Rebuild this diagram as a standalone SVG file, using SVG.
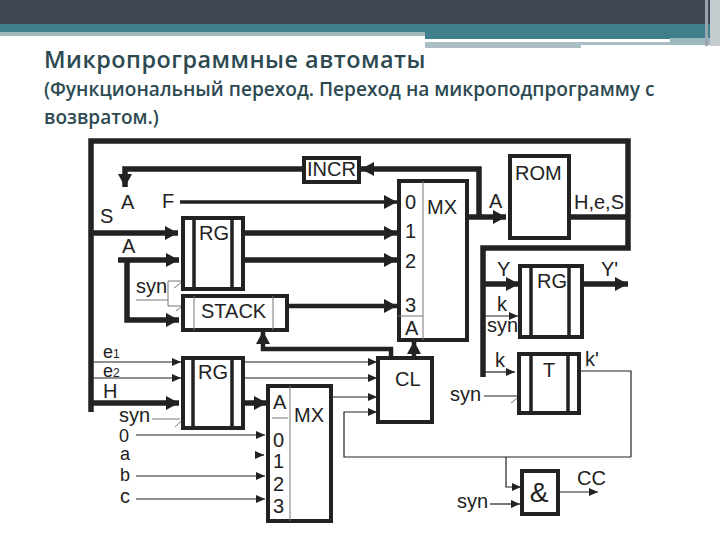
<svg xmlns="http://www.w3.org/2000/svg" width="720" height="540" viewBox="0 0 720 540">
<style>
.t{font-family:"Liberation Sans",Arial,sans-serif;font-size:20px;fill:#222}
.c{font-size:18px}
.h{font-family:"Open Sans","Noto Sans",sans-serif;font-weight:600;fill:#2d4a52}
.b{fill:#fff;stroke:#222;stroke-width:4}
.i{fill:none;stroke:#222;stroke-width:3.500}
.w{fill:none;stroke:#222;stroke-width:5.500}
.m{fill:none;stroke:#222;stroke-width:4.500}
.f{fill:none;stroke:#222;stroke-width:1.200}
.s{fill:none;stroke:#777;stroke-width:1}
</style>
<defs>
<marker id="big" markerUnits="userSpaceOnUse" markerWidth="14" markerHeight="14" refX="13" refY="7" orient="auto"><path d="M0 0L13 7L0 14z" fill="#222"/></marker>
<marker id="sm" markerUnits="userSpaceOnUse" markerWidth="9" markerHeight="8" refX="9" refY="4" orient="auto"><path d="M0 0L9 4L0 8z" fill="#222"/></marker>
</defs>
<rect width="720" height="540" fill="#fff"/>
<g id="header">
<rect width="720" height="24" fill="#3f4553"/>
<rect y="24" width="720" height="12" fill="#3f7f8c"/>
<rect y="32" width="425" height="4" fill="#9fb6bc"/>
<rect x="425" y="36" width="285" height="3" fill="#3f7f8c"/>
<rect x="425" y="39" width="245" height="3" fill="#fff"/>
<rect x="425" y="42" width="245" height="3" fill="#a9bfc4"/>
<rect x="425" y="45" width="156" height="3" fill="#a9bfc4"/>
<rect x="670" y="38" width="40" height="7" fill="#9cb8be"/>
<rect x="705" y="0" width="3" height="46" fill="#9aa5ad"/>
<rect x="710" y="0" width="10" height="46" fill="#c4ccd0"/>
</g>
<text class="h" x="44" y="68" font-size="23.400" letter-spacing=".5">Микропрограммные автоматы</text>
<text class="h" x="44" y="96" font-size="19.100">(Функциональный переход. Переход на микроподпрограмму с</text>
<text class="h" x="44" y="124" font-size="19">возвратом.)</text>
<g id="connectors">
<path class="w" d="M91 412V141H628V248H483V377"/>
<path class="w" d="M628 217H569"/>
<path class="w" d="M467 217H506" marker-end="url(#big)"/>
<path class="w" d="M479 217V169H361" marker-end="url(#big)"/>
<path class="w" d="M303 169H125V187" marker-end="url(#big)"/>
<path class="i" d="M180 202H397" marker-end="url(#big)"/>
<path class="w" d="M91 233H178" marker-end="url(#big)"/>
<path class="w" d="M243 233H397" marker-end="url(#big)"/>
<path class="w" d="M243 260H397" marker-end="url(#big)"/>
<path class="w" d="M118 260H179" marker-end="url(#big)"/>
<path class="w" d="M127 260V320H179" marker-end="url(#big)"/>
<path class="m" d="M287 306H397" marker-end="url(#big)"/>
<path class="w" d="M483 284H519" marker-end="url(#big)"/>
<path class="w" d="M582 284H628" marker-end="url(#big)"/>
<path class="f" d="M485 316H518" marker-end="url(#sm)"/>
<path class="f" d="M483 372H515" marker-end="url(#sm)"/>
<path class="m" d="M391 357V349H263V331" marker-end="url(#big)"/>
<path class="m" d="M414 357V341" marker-end="url(#big)"/>
<path class="f" d="M93 362H181" marker-end="url(#sm)"/>
<path class="f" d="M93 378H181" marker-end="url(#sm)"/>
<path class="w" d="M91 403H179" marker-end="url(#big)"/>
<path class="f" d="M243 362H377" marker-end="url(#sm)"/>
<path class="f" d="M243 378H377" marker-end="url(#sm)"/>
<path class="w" d="M243 403H267" marker-end="url(#big)"/>
<path class="f" d="M331 397H377" marker-end="url(#sm)"/>
<path class="f" d="M631 457H344V412H377" marker-end="url(#sm)"/>
<path class="f" d="M579 371H631V457"/>
<path class="f" d="M506 457V487H521" marker-end="url(#sm)"/>
<path class="f" d="M558 492H598" marker-end="url(#sm)"/>
<path class="f" d="M490 504H520" marker-end="url(#sm)"/>
<path class="f" d="M136 435H265" marker-end="url(#sm)"/>
<path class="f" d="M256 455H264" marker-end="url(#sm)"/>
<path class="f" d="M136 476H265" marker-end="url(#sm)"/>
<path class="f" d="M136 499H265" marker-end="url(#sm)"/>
<path class="f" d="M484 396H518"/>
<path class="s" d="M152 419H180M136 300H168M182 281H168V306H182"/>
<path class="s" d="M174 288L191 275M176 311L191 300M175 427L190 413M511 403L526 391M520 333L528 323"/>
</g>
<g id="incr"><rect class="b" x="304" y="158" width="55" height="24"/><text class="t" x="307" y="176">INCR</text></g>
<g id="rg1"><rect class="b" x="183" y="218" width="60" height="71"/><path class="i" d="M194 218V289M232 218V289"/><text class="t" x="199" y="240">RG</text></g>
<g id="stack"><rect class="b" x="183" y="296" width="104" height="34"/><path class="s" d="M194 296V330M273 296V330"/><text class="t" x="201" y="318">STACK</text></g>
<g id="mx1"><rect class="b" x="399" y="181" width="68" height="159"/><path class="s" d="M423 181V340M398 316H423"/><text class="t" x="405" y="209">0</text><text class="t" x="405" y="238">1</text><text class="t" x="405" y="268">2</text><text class="t" x="405" y="312">3</text><text class="t" x="405" y="335">A</text><text class="t" x="427" y="214">MX</text></g>
<g id="rom"><rect class="b" x="510" y="156" width="59" height="82"/><text class="t" x="515" y="180">ROM</text></g>
<g id="rg2"><rect class="b" x="520" y="266" width="62" height="71"/><path class="i" d="M531 266V337M569 266V337"/><text class="t" x="537" y="288">RG</text></g>
<g id="t"><rect class="b" x="519" y="354" width="60" height="59"/><path class="i" d="M531 354V413M568 354V413"/><text class="t" x="543" y="377">T</text></g>
<g id="cl"><rect class="b" x="378" y="358" width="54" height="64"/><text class="t" x="395" y="386">CL</text></g>
<g id="rg3"><rect class="b" x="183" y="358" width="60" height="70"/><path class="i" d="M193 358V428M232 358V428"/><text class="t" x="198" y="379">RG</text></g>
<g id="mx2"><rect class="b" x="268" y="386" width="63" height="135"/><path class="s" d="M290 386V521M272 418H288"/><text class="t" x="273" y="409">A</text><text class="t" x="273" y="447">0</text><text class="t" x="273" y="468">1</text><text class="t" x="273" y="491">2</text><text class="t" x="273" y="513">3</text><text class="t" x="294" y="422">MX</text></g>
<g id="and"><rect class="b" x="522" y="471" width="36" height="43"/><text class="t" x="539" y="502" text-anchor="middle" style="font-size:28px">&amp;</text></g>
<g id="labels">
<text class="t" x="121" y="209">A</text><text class="t" x="162" y="208">F</text><text class="t" x="100" y="223">S</text><text class="t" x="122" y="253">A</text><text class="t" x="136" y="293">syn</text>
<text class="t" x="489" y="208">A</text><text class="t" x="574" y="209">H,e,S</text><text class="t" x="497" y="276">Y</text><text class="t" x="601" y="276">Y'</text><text class="t" x="497" y="311">k</text><text class="t" x="487" y="332">syn</text><text class="t" x="495" y="367">k</text><text class="t" x="585" y="366">k'</text><text class="t" x="450" y="401">syn</text>
<text class="t c" x="103" y="358">e<tspan style="font-size:12px">1</tspan></text><text class="t c" x="103" y="377">e<tspan style="font-size:12px">2</tspan></text><text class="t" x="103" y="398">H</text><text class="t" x="119" y="422">syn</text><text class="t c" x="119" y="442">0</text><text class="t c" x="120" y="460">a</text><text class="t c" x="120" y="481">b</text><text class="t" x="120" y="503">c</text>
<text class="t" x="577" y="485">CC</text><text class="t" x="457" y="508">syn</text>
</g>
</svg>
